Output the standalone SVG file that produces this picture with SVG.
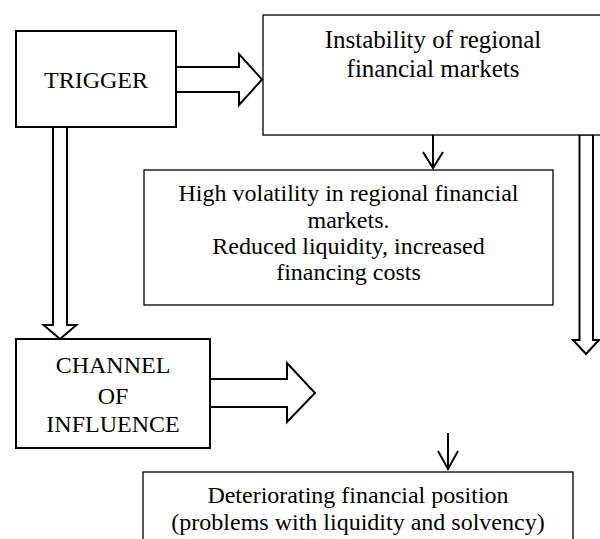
<svg xmlns="http://www.w3.org/2000/svg" width="600" height="539" viewBox="0 0 600 539">
<style>
.bg{fill:#fff}
.thick{fill:#fff;stroke:#000;stroke-width:2}
.thin{fill:#fff;stroke:#000;stroke-width:1.3}
.arr{fill:none;stroke:#000;stroke-width:2}
.blk{fill:#fff;stroke:#000;stroke-width:2;stroke-linejoin:miter}
text{font-family:"Liberation Serif","Times New Roman",serif;font-size:24px;fill:#000;text-anchor:middle}
</style>
<rect class="bg" x="0" y="0" width="600" height="539"/>
<g id="connectors">
  <path class="blk" d="M176,67 H239 V54 L262,79.5 L239,105 V92 H176"/>
  <path class="blk" d="M53,127 V325 H43.5 L60,339 L76.5,325 H67 V127"/>
  <path class="blk" d="M210,379 H287 V363 L315,393 L287,422 V407 H210"/>
  <path class="blk" d="M579.5,134.5 H593 V340 H599 L586,354 L573,340 H579.5 Z"/>
  <path class="arr" d="M433,135 V168 M423,152 L433,168 L443,152"/>
  <path class="arr" d="M448,433 V470 M438,451 L448,469 L458,451"/>
</g>
<g id="trigger">
  <rect class="thick" x="16" y="31" width="160" height="96"/>
  <text x="96" y="88">TRIGGER</text>
</g>
<g id="instability">
  <rect class="thin" x="263" y="15" width="345" height="120"/>
  <text x="433" y="48" style="font-size:25px">Instability of regional</text>
  <text x="433" y="77" style="font-size:25px">financial markets</text>
</g>
<g id="volatility">
  <rect class="thin" x="144" y="170" width="409" height="135"/>
  <text x="348.5" y="201">High volatility in regional financial</text>
  <text x="348.5" y="228">markets.</text>
  <text x="348.5" y="254">Reduced liquidity, increased</text>
  <text x="348.5" y="280">financing costs</text>
</g>
<g id="channel">
  <rect class="thick" x="16" y="339" width="194" height="109"/>
  <text x="113" y="373">CHANNEL</text>
  <text x="113" y="404">OF</text>
  <text x="113" y="432">INFLUENCE</text>
</g>
<g id="deteriorating">
  <rect class="thin" x="143" y="472" width="430" height="80"/>
  <text x="358" y="503">Deteriorating financial position</text>
  <text x="358" y="530">(problems with liquidity and solvency)</text>
</g>
</svg>
